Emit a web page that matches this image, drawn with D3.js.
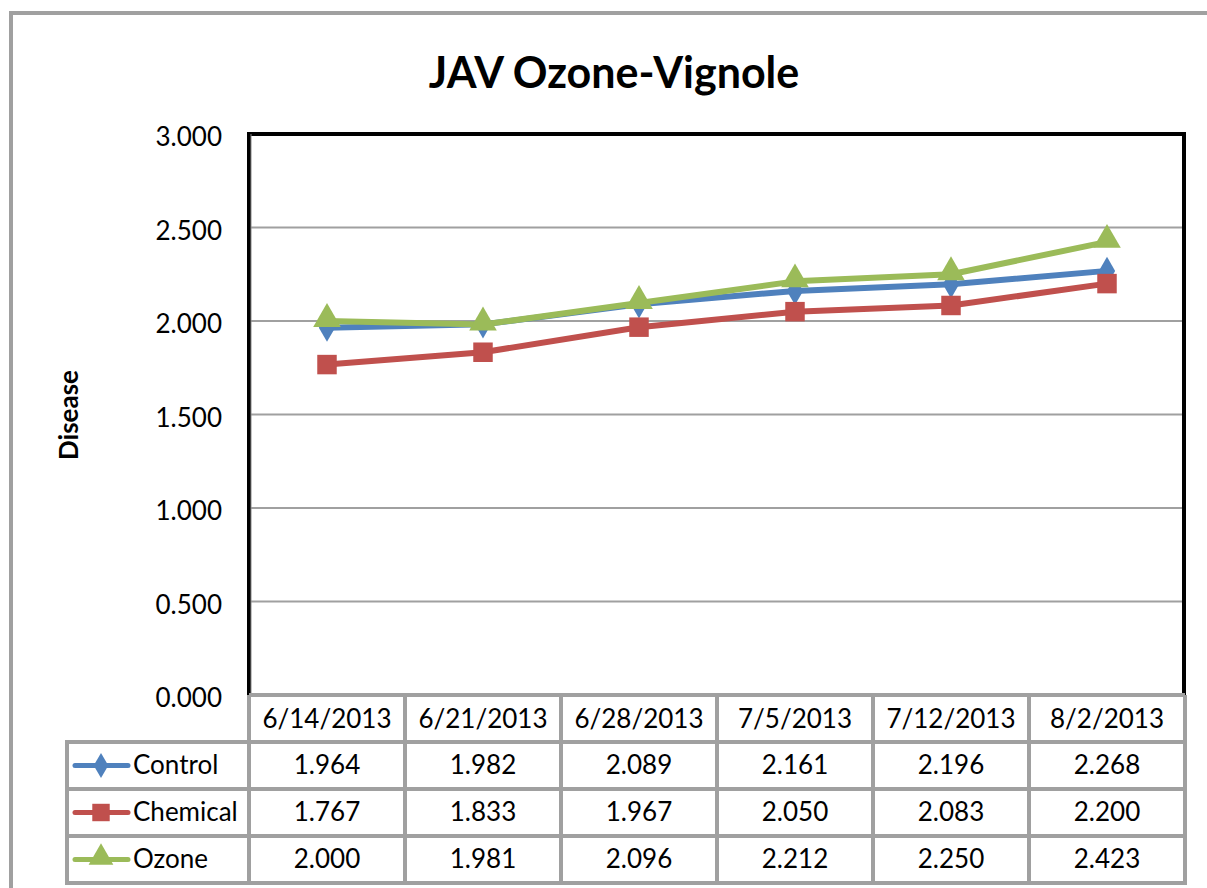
<!DOCTYPE html>
<html>
<head>
<meta charset="utf-8">
<script src="https://cdn.jsdelivr.net/npm/d3@7"></script>
<style>
  body { margin: 0; background: #fff; }
  text { font-family: Lato, "Open Sans", sans-serif; fill: #000; }
</style>
</head>
<body>
<div id="chart"></div>
<script>
var dates = ["6/14/2013", "6/21/2013", "6/28/2013", "7/5/2013", "7/12/2013", "8/2/2013"];
var seriesNames = ["Control", "Chemical", "Ozone"];
var control = [1.964, 1.982, 2.089, 2.161, 2.196, 2.268];
var chemical = [1.767, 1.833, 1.967, 2.050, 2.083, 2.200];
var ozone = [2.000, 1.981, 2.096, 2.212, 2.250, 2.423];
var yTicks = [0, 0.5, 1, 1.5, 2, 2.5, 3];

var colors = ["#4F81BD", "#C0504D", "#9BBB59"];
var symbols = [d3.symbolDiamond, d3.symbolSquare, d3.symbolTriangle];
var symbolSizes = [230, 380, 330];

var series = [control, chemical, ozone].map(function(vals, i) {
    return { name: seriesNames[i], values: vals, color: colors[i] };
});

var svgWidth = 1207;
var svgHeight = 888;

// Plot area
var plot = { left: 249, right: 1185, top: 134, bottom: 695 };
var rowH = 47;
var tableLeft = 67;

var svg = d3.select("#chart")
    .append("svg")
    .attr("width", svgWidth)
    .attr("height", svgHeight);

// Outer chart border (cropped at right and bottom)
svg.append("path")
    .attr("d", `M11,${svgHeight + 10} L11,13 L${svgWidth + 10},13`)
    .attr("fill", "none")
    .attr("stroke", "#a0a0a0")
    .attr("stroke-width", 4);

// Title
svg.append("text")
    .attr("x", 614)
    .attr("y", 88)
    .attr("text-anchor", "middle")
    .style("font-size", "43px")
    .style("font-weight", "bold")
    .text("JAV Ozone-Vignole");

// Scales
var xScale = d3.scaleBand()
    .domain(dates)
    .range([plot.left, plot.right])
    .padding(0);

var yScale = d3.scaleLinear()
    .domain([0, 3])
    .range([plot.bottom, plot.top]);

var xc = d => xScale(d) + xScale.bandwidth() / 2;

// Gridlines
svg.append("g")
    .selectAll("line")
    .data(yTicks.slice(1, -1))
    .enter()
    .append("line")
    .attr("x1", plot.left)
    .attr("x2", plot.right)
    .attr("y1", d => yScale(d))
    .attr("y2", d => yScale(d))
    .attr("stroke", "#a0a0a0")
    .attr("stroke-width", 2);

// Y axis labels
var yAxis = svg.append("g")
    .attr("transform", `translate(${plot.left}, 0)`)
    .call(d3.axisLeft(yScale).tickValues(yTicks).tickFormat(d3.format(".3f")).tickSize(0).tickPadding(27));
yAxis.select(".domain").remove();
yAxis.selectAll("text")
    .style("font-family", "Lato, sans-serif")
    .style("font-size", "26px")
    .attr("dy", "0.45em");

// Plot border: black top/right, thin left axis
svg.append("path")
    .attr("d", `M${plot.left},${plot.bottom} L${plot.left},${plot.top} L${plot.right - 1},${plot.top} L${plot.right - 1},${plot.bottom}`)
    .attr("fill", "none")
    .attr("stroke", "#000")
    .attr("stroke-width", 4);
svg.append("line")
    .attr("x1", plot.left + 2).attr("x2", plot.left + 2)
    .attr("y1", plot.top).attr("y2", plot.bottom)
    .attr("stroke", "#888").attr("stroke-width", 1);

// Y axis title
svg.append("text")
    .attr("transform", `translate(78, 415) rotate(-90)`)
    .attr("text-anchor", "middle")
    .style("font-size", "26px")
    .style("font-weight", "bold")
    .text("Disease");

// Lines
var line = d3.line()
    .x((d, i) => xc(dates[i]))
    .y(d => yScale(d));

var groups = svg.selectAll(".series")
    .data(series)
    .enter()
    .append("g")
    .attr("class", "series");

groups.append("path")
    .attr("d", d => line(d.values))
    .attr("fill", "none")
    .attr("stroke", d => d.color)
    .attr("stroke-width", 6)
    .attr("stroke-linejoin", "round");

groups.each(function(s, si) {
    d3.select(this).selectAll("path.marker")
        .data(s.values)
        .enter()
        .append("path")
        .attr("class", "marker")
        .attr("d", d3.symbol().type(symbols[si]).size(symbolSizes[si]))
        .attr("transform", (d, i) => `translate(${xc(dates[i])}, ${yScale(d) + (si === 2 ? -2 : 0)})`)
        .attr("fill", s.color);
});

// Data table
var table = svg.append("g");
var gridColor = "#a0a0a0";

// header row
table.selectAll("text.head")
    .data(dates)
    .enter()
    .append("text")
    .attr("class", "head")
    .attr("x", d => xc(d))
    .attr("y", plot.bottom + rowH / 2 + 9)
    .attr("text-anchor", "middle")
    .style("font-size", "26px")
    .text(d => d);

// body rows
series.forEach(function(s, si) {
    var rowTop = plot.bottom + rowH * (si + 1);
    var cy = rowTop + rowH / 2;

    table.selectAll("text.v" + si)
        .data(s.values)
        .enter()
        .append("text")
        .attr("x", (d, i) => xc(dates[i]))
        .attr("y", cy + 8)
        .attr("text-anchor", "middle")
        .style("font-size", "26px")
        .text(d => d3.format(".3f")(d));

    // legend key
    table.append("line")
        .attr("x1", tableLeft + 8).attr("x2", tableLeft + 61)
        .attr("y1", cy).attr("y2", cy)
        .attr("stroke", s.color).attr("stroke-width", 5)
        .attr("stroke-linecap", "round");
    table.append("path")
        .attr("d", d3.symbol().type(symbols[si]).size(symbolSizes[si] * 0.8))
        .attr("transform", `translate(${tableLeft + 34}, ${cy + (si === 2 ? -2 : 0)})`)
        .attr("fill", s.color);
    table.append("text")
        .attr("x", tableLeft + 66)
        .attr("y", cy + 8)
        .style("font-size", "26px")
        .text(s.name);
});

// table grid lines
var tableBottom = plot.bottom + rowH * 4;
var hLines = d3.range(0, 5).map(i => plot.bottom + rowH * i);
table.selectAll("line.h")
    .data(hLines)
    .enter()
    .append("line")
    .attr("x1", (d, i) => i === 0 ? plot.left : tableLeft)
    .attr("x2", plot.right)
    .attr("y1", d => d)
    .attr("y2", d => d)
    .attr("stroke", gridColor)
    .attr("stroke-width", 4);

var vLines = dates.map(d => xScale(d)).concat([plot.right]);
table.selectAll("line.v")
    .data(vLines)
    .enter()
    .append("line")
    .attr("x1", d => d)
    .attr("x2", d => d)
    .attr("y1", plot.bottom)
    .attr("y2", tableBottom + 2)
    .attr("stroke", gridColor)
    .attr("stroke-width", 4);

table.append("line")
    .attr("x1", tableLeft).attr("x2", tableLeft)
    .attr("y1", plot.bottom + rowH - 2).attr("y2", tableBottom + 2)
    .attr("stroke", gridColor).attr("stroke-width", 4);
</script>
</body>
</html>
